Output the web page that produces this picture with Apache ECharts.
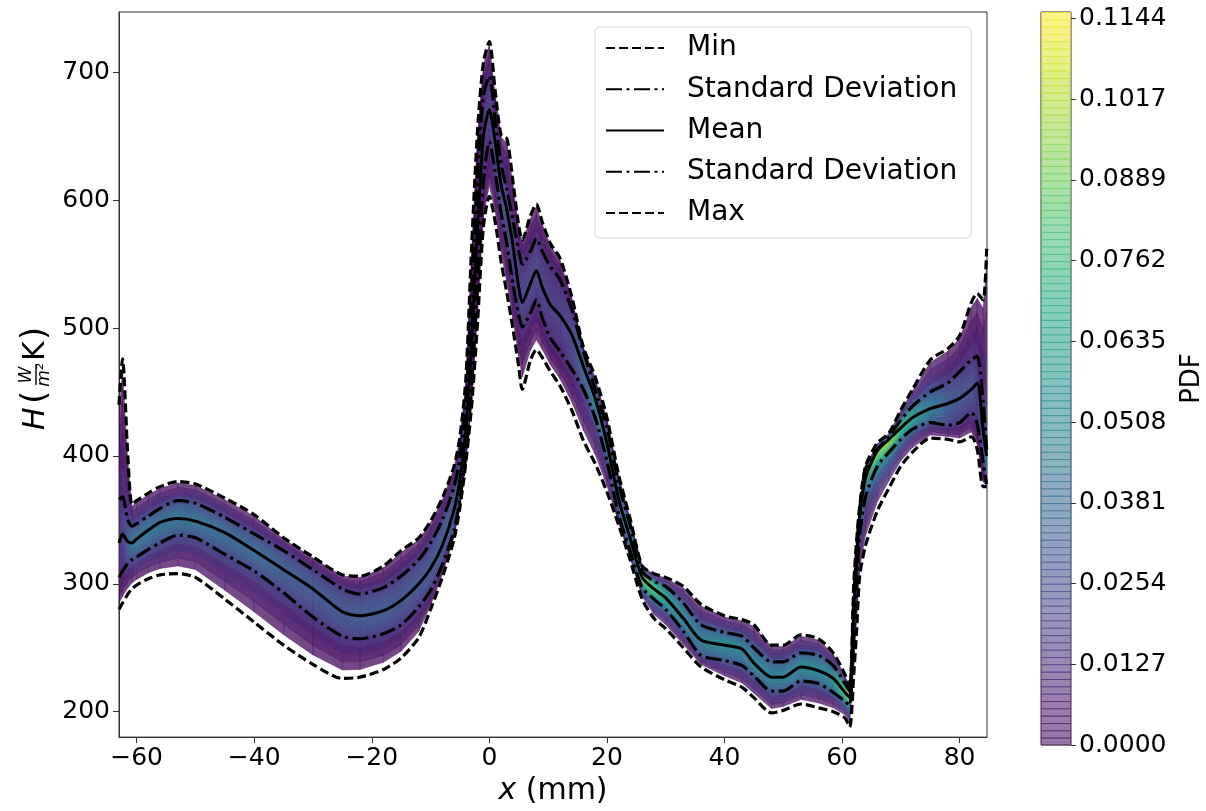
<!DOCTYPE html>
<html><head><meta charset="utf-8">
<script src="https://cdn.jsdelivr.net/npm/echarts@6/dist/echarts.min.js"></script>
<style>html,body{margin:0;padding:0;background:#fff}#c{width:1206px;height:811px}</style>
</head><body><div id="c"></div>
<script>
// ---- data ----
const xPos = [-63, -62.4, -61.5, -60.8, -60, -58, -56, -53, -50, -45, -40, -35, -30, -25, -22, -18, -15, -12, -10, -8, -6, -5, -4, -3, -2, -1, 0, 1, 2, 3, 4, 5, 5.6, 7, 8, 9, 10.4, 12, 14, 16, 18, 20, 22, 24, 26, 28, 30, 33, 36, 40, 43, 45, 48, 50, 53, 56, 58.5, 60.5, 61.3, 62, 62.5, 63, 64, 66, 68, 70, 72, 75, 78, 80, 82, 83, 84, 84.6];
const hMax = [440, 476, 400, 362, 365, 371, 376, 380, 378, 367,
  354, 336, 321, 307, 306, 314, 326, 336, 349, 367,
  392, 415, 460, 565, 655, 708, 724, 685, 651, 648,
  615, 580, 569, 588, 597, 583, 566, 555, 525, 485,
  462, 430, 385, 350, 314, 308, 305, 298, 284, 275,
  272, 268, 252, 252, 260, 257, 246, 229, 218, 300,
  335, 360, 392, 410, 418, 436, 452, 475, 484, 494,
  520, 527, 522, 562];
const hStdHigh = [366, 368, 350, 345, 347, 353, 359, 365, 363, 352,
  339, 326, 311, 296, 292, 297, 306, 319, 332, 350,
  376, 398, 440, 525, 620, 682, 697, 662, 628, 608,
  585, 560, 550, 560, 570, 560, 548, 538, 515, 482,
  452, 422, 378, 345, 310, 302, 298, 285, 268, 262,
  259, 250, 239, 239, 246, 244, 236, 222, 216, 290,
  328, 358, 390, 405, 415, 428, 439, 450, 457, 466,
  475, 478, 442, 405];
const hMean = [332, 339, 333, 332, 335, 342, 348, 351, 349, 340,
  326, 311, 296, 278, 275, 279, 287, 300, 312, 330,
  358, 382, 420, 490, 580, 650, 671, 645, 612, 592,
  565, 532, 520, 535, 545, 532, 518, 510, 495, 470,
  445, 410, 366, 335, 305, 296, 289, 273, 256, 252,
  249, 238, 227, 227, 235, 232, 226, 215, 211, 280,
  318, 352, 383, 404, 413, 422, 430, 437, 441, 445,
  452, 457, 420, 400];
const hStdLow = [305, 310, 316, 319, 321, 327, 332, 338, 336, 323,
  310, 293, 274, 259, 257, 261, 268, 282, 295, 315,
  342, 366, 400, 455, 540, 615, 646, 622, 590, 565,
  535, 510, 501, 512, 522, 508, 492, 482, 468, 452,
  430, 396, 354, 325, 297, 288, 280, 263, 244, 240,
  236, 228, 216, 216, 224, 222, 215, 208, 205, 265,
  305, 338, 368, 392, 403, 413, 421, 426, 424, 426,
  434, 425, 395, 378];
const hMin = [280, 285, 292, 296, 299, 304, 307, 308, 305, 288,
  270, 252, 237, 226, 227, 233, 242, 258, 280, 305,
  335, 360, 395, 440, 505, 580, 603, 583, 552, 527,
  500, 470, 452, 475, 483, 477, 466, 455, 436, 412,
  394, 372, 346, 318, 288, 273, 265, 250, 235, 225,
  219, 211, 199, 201, 206, 203, 200, 195, 188, 230,
  265, 306, 330, 357, 375, 392, 403, 414, 413, 411,
  415, 405, 376, 376];
const xTicks = [-60, -40, -20, 0, 20, 40, 60, 80];
const yTicks = [200, 300, 400, 500, 600, 700];
const cbTickLabels = ['0.0000', '0.0127', '0.0254', '0.0381', '0.0508', '0.0635', '0.0762', '0.0889', '0.1017', '0.1144'];
const CB_MAX = 0.11436;     // highest labelled level
const CB_TOP = 0.11535;     // top edge of the colour bar
const seriesNames = ['Min', 'Standard Deviation', 'Mean', 'Standard Deviation ', 'Max'];

// ---- colour helpers ----
const VIRIDIS = ['#440154','#482475','#414487','#355f8d','#2a788e','#21918c','#22a884','#44bf70','#7ad151','#bddf26','#fde725'];
function hex2rgb(h){return [parseInt(h.slice(1,3),16),parseInt(h.slice(3,5),16),parseInt(h.slice(5,7),16)];}
const VR = VIRIDIS.map(hex2rgb);
function viridis(t, a){
  t = Math.max(0, Math.min(1, t));
  const s = t*10, i = Math.min(9, Math.floor(s)), f = s - i;
  const c = VR[i].map((v,k)=>Math.round(v + (VR[i+1][k]-v)*f));
  return 'rgba(' + c[0] + ',' + c[1] + ',' + c[2] + ',' + (a==null?1:a) + ')';
}

// ---- density band (coloured by an estimated PDF) ----
const Z_LEVELS = [0, 0.2, 0.4, 0.6, 0.8, 1, 1.325, 1.65, 1.975, 2.3];
function bandH(i, side, z){
  const m = hMean[i];
  const sd = side > 0 ? hStdHigh[i] : hStdLow[i];
  const ext = side > 0 ? hMax[i] - 0.08*(hMax[i]-hStdHigh[i]) : hMin[i] + 0.2*(hStdLow[i]-hMin[i]);
  if (z <= 1) return m + z*(sd - m);
  return sd + (z-1)/1.3*(ext - sd);
}
function pdfAt(i, z){
  const s = Math.max(2, (hStdHigh[i]-hStdLow[i])/2);
  return 0.70*Math.exp(-z*z/2)/Math.pow(s, 1.1);
}
function renderBand(params, api){
  const i = api.value(2);
  const children = [];
  [-1, 1].forEach(function(side){
    for (let k = 0; k < Z_LEVELS.length-1; k++){
      const za = Z_LEVELS[k], zb = Z_LEVELS[k+1], zm = (za+zb)/2;
      const a0 = api.coord([xPos[i], bandH(i, side, za)]);
      const b0 = api.coord([xPos[i], bandH(i, side, zb)]);
      const a1 = api.coord([xPos[i+1], bandH(i+1, side, za)]);
      const b1 = api.coord([xPos[i+1], bandH(i+1, side, zb)]);
      const op = k >= 8 ? 0.75 : (k >= 7 ? 0.88 : 0.95);
      const c0 = viridis(pdfAt(i, zm)/CB_MAX, op), c1 = viridis(pdfAt(i+1, zm)/CB_MAX, op);
      const grad = new echarts.graphic.LinearGradient(a0[0], 0, a1[0] === a0[0] ? a0[0]+1 : a1[0], 0,
        [{offset:0,color:c0},{offset:1,color:c1}], true);
      children.push({type:'polygon', shape:{points:[a0,a1,b1,b0]}, style:{fill:grad, stroke:grad, lineWidth:0.5}, silent:true});
    }
  });
  return {type:'group', children: children};
}

// ---- colour bar ----
const CB_STEPS = 100;
function renderColorbar(params, api){
  const i = api.value(1);
  const v0 = i*CB_TOP/CB_STEPS, v1 = (i+1)*CB_TOP/CB_STEPS;
  const p0 = api.coord([0, v0]), p1 = api.coord([1, v1]);
  const col = viridis((i+0.5)/CB_STEPS, 0.55);
  const lineCol = viridis((i+0.5)/CB_STEPS, 0.75);
  return {type:'group', children:[
    {type:'rect', shape:{x:p0[0], y:p1[1], width:p1[0]-p0[0], height:p0[1]-p1[1]+0.5}, style:{fill:col}},
    {type:'line', shape:{x1:p0[0], y1:p1[1]+0.5, x2:p1[0], y2:p1[1]+0.5}, style:{stroke:lineCol, lineWidth:0.8}}
  ]};
}
const cbTickValues = cbTickLabels.map(function(_, i){ return i*CB_MAX/9; });

const FONT = 'DejaVu Sans';
const dashStyle = {color:'#000', width:3.2, type:[9,4]};
const dashDotStyle = {color:'#000', width:3.2, type:[16,4.5,3,4.5]};
const solidStyle = {color:'#000', width:3, type:'solid'};
const lineStyles = [dashStyle, dashDotStyle, solidStyle, dashDotStyle, dashStyle];
const lineData = [hMin, hStdLow, hMean, hStdHigh, hMax];

const lineSeries = seriesNames.map(function(n, k){
  return {name:n, type:'line', xAxisIndex:0, yAxisIndex:0, symbol:'none', z:5,
    smooth:0.25,
    data: xPos.map(function(x,i){return [x, lineData[k][i]];}),
    lineStyle: lineStyles[k], itemStyle:{color:'#000'}, emphasis:{disabled:true}};
});

const minus = function(v){ return String(v).replace('-', '\u2212'); };

const option = {
  animation: false,
  backgroundColor: '#fff',
  textStyle: {fontFamily: FONT},
  grid: [
    {left:119, right:219, top:12, bottom:66, show:true, borderColor:'#333', borderWidth:1, backgroundColor:'transparent'},
    {left:1041, width:36, top:12, height:733, show:true, borderColor:'#333', borderWidth:1}
  ],
  xAxis: [
    {type:'value', gridIndex:0, min:-63, max:84.66,
      axisLine:{show:true, onZero:false, lineStyle:{color:'#333', width:1}},
      axisTick:{show:true, length:6, lineStyle:{color:'#333'}, customValues: xTicks},
      axisLabel:{fontSize:25, color:'#000', fontFamily:FONT, margin:9, customValues: xTicks, formatter: minus},
      splitLine:{show:false},
      name:'{i|x} (mm)', nameLocation:'middle', nameGap:38,
      nameTextStyle:{fontSize:30, color:'#000', fontFamily:FONT, rich:{i:{fontSize:30, fontStyle:'italic', fontFamily:FONT, color:'#000'}}}
    },
    {type:'value', gridIndex:1, min:0, max:1, show:false}
  ],
  yAxis: [
    {type:'value', gridIndex:0, min:180.1, max:747.2,
      axisLine:{show:true, onZero:false, lineStyle:{color:'#333', width:1}},
      axisTick:{show:true, length:6, lineStyle:{color:'#333'}, customValues: yTicks},
      axisLabel:{fontSize:25, color:'#000', fontFamily:FONT, margin:9, customValues: yTicks},
      splitLine:{show:false}
    },
    {type:'value', gridIndex:1, min:0, max:CB_TOP, position:'right',
      axisLine:{show:false, onZero:false},
      axisTick:{show:true, length:5, lineStyle:{color:'#333'}, customValues: cbTickValues},
      axisLabel:{fontSize:25, color:'#000', fontFamily:FONT, margin:8, customValues: cbTickValues,
        formatter:function(v){ return cbTickLabels[Math.round(v/(CB_MAX/9))] || ''; }},
      splitLine:{show:false},
      name:'PDF', nameLocation:'middle', nameGap:108, nameRotate:90,
      nameTextStyle:{fontSize:26, color:'#000', fontFamily:FONT}
    }
  ],
  legend: {
    data: seriesNames, orient:'vertical', left:595, top:27,
    padding:[7, 14, 11, 10], itemGap:13.25, itemWidth:58, itemHeight:28,
    backgroundColor:'rgba(255,255,255,0.85)', borderColor:'#d5d5d5', borderWidth:1, borderRadius:5,
    itemStyle:{color:'rgba(0,0,0,0)', opacity:0, borderWidth:0},
    textStyle:{fontSize:28, color:'#000', fontFamily:FONT, lineHeight:28, padding:[0,0,0,18]},
    formatter:function(n){ return n.trim(); },
    selectedMode:false
  },
  graphic: [{
    type:'group', x:36, y:378, rotation:Math.PI/2,
    children:[
      {type:'text', x:-52, y:0, style:{text:'H', font:'italic 30px "DejaVu Sans"', fill:'#000', verticalAlign:'middle', align:'left'}},
      {type:'text', x:-26, y:0, style:{text:'(', font:'34px "DejaVu Sans"', fill:'#000', verticalAlign:'middle', align:'left'}},
      {type:'text', x:3, y:-9, style:{text:'W', font:'italic 17px "DejaVu Sans"', fill:'#000', verticalAlign:'middle', align:'center'}},
      {type:'line', shape:{x1:-7, y1:0, x2:14, y2:0}, style:{stroke:'#000', lineWidth:1.4}},
      {type:'text', x:3, y:9, style:{text:'m\u00b2', font:'italic 17px "DejaVu Sans"', fill:'#000', verticalAlign:'middle', align:'center'}},
      {type:'text', x:17, y:0, style:{text:'K', font:'30px "DejaVu Sans"', fill:'#000', verticalAlign:'middle', align:'left'}},
      {type:'text', x:38, y:0, style:{text:')', font:'34px "DejaVu Sans"', fill:'#000', verticalAlign:'middle', align:'left'}}
    ]
  }],
  series: [
    {type:'custom', name:'band', xAxisIndex:0, yAxisIndex:0, z:1, clip:true, silent:true,
      renderItem: renderBand, encode:{x:0, y:1},
      data: xPos.slice(0, -1).map(function(x,i){ return [x, hMean[i], i]; })},
    {type:'custom', name:'colorbar', xAxisIndex:1, yAxisIndex:1, z:1, silent:true,
      renderItem: renderColorbar, encode:{x:0, y:1},
      data: Array.from({length:CB_STEPS}, function(_, i){ return [0, i]; })}
  ].concat(lineSeries)
};

const chart = echarts.init(document.getElementById('c'));
chart.setOption(option);
</script>
</body></html>
